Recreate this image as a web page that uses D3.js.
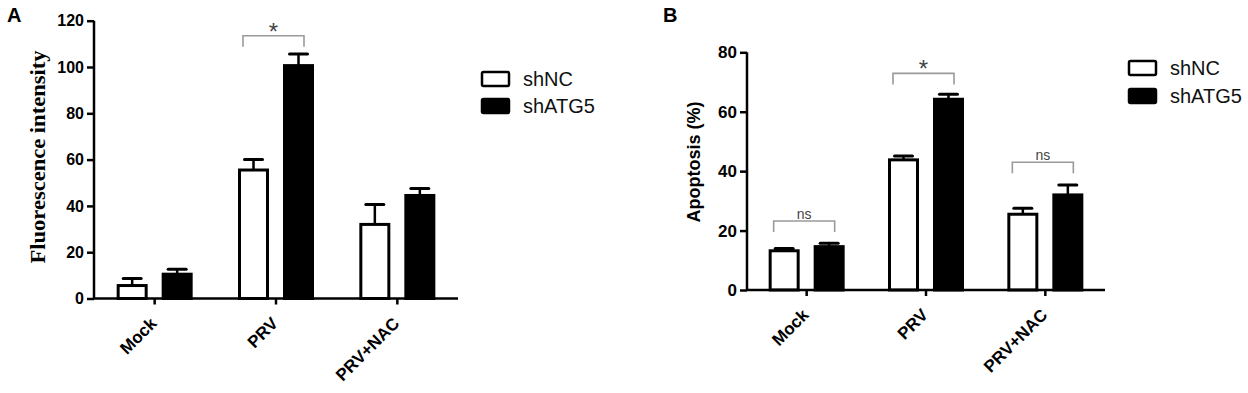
<!DOCTYPE html>
<html>
<head>
<meta charset="utf-8">
<script src="https://cdn.jsdelivr.net/npm/d3@7"></script>
<style>
  body { margin: 0; background: #fff; }
  svg { display: block; }
</style>
</head>
<body>
<svg id="chart" width="1248" height="393" font-family="'Liberation Sans', Arial, sans-serif"></svg>
<script>
// categories and series
const categories = ["Mock", "PRV", "PRV+NAC"];
const seriesNames = ["shNC", "shATG5"];

// panel A: fluorescence intensity
const fluoShNC = [5.6, 55.5, 32];
const fluoShNCErr = [3, 4.5, 8.6];
const fluoShATG5 = [10.5, 100.6, 44.5];
const fluoShATG5Err = [2.1, 5, 3];
const fluoTicks = [0, 20, 40, 60, 80, 100, 120];
const fluoSig = [{ group: "PRV", label: "*", level: 113.5 }];

// panel B: apoptosis (%)
const apopShNC = [13.2, 43.8, 25.5];
const apopShNCErr = [0.8, 1.3, 2];
const apopShATG5 = [14.6, 64.2, 32];
const apopShATG5Err = [1.1, 1.7, 3.3];
const apopTicks = [0, 20, 40, 60, 80];
const apopSig = [
    { group: "Mock", label: "ns", level: 23.2 },
    { group: "PRV", label: "*", level: 72.9 },
    { group: "PRV+NAC", label: "ns", level: 43 }
];

const svg = d3.select("#chart");
svg.append("rect").attr("width", 1248).attr("height", 393).attr("fill", "#fff");

function drawPanel(opts) {
    const g = svg.append("g");
    const x = d3.scaleBand().domain(categories).range([opts.left, opts.right]).padding(0);
    const y = d3.scaleLinear().domain([0, opts.max]).range([opts.bottom, opts.top]);
    const inner = d3.scaleBand().domain(seriesNames)
        .range([x.bandwidth() / 2 - 38, x.bandwidth() / 2 + 38])
        .paddingInner(0.311).paddingOuter(0);

    const rows = [];
    categories.forEach((c, i) => {
        rows.push({ cat: c, s: "shNC", v: opts.shNC[i], e: opts.shNCErr[i] });
        rows.push({ cat: c, s: "shATG5", v: opts.shATG5[i], e: opts.shATG5Err[i] });
    });
    const cx = d => x(d.cat) + inner(d.s) + inner.bandwidth() / 2;

    const sw = 3;
    // error bars (upward only)
    const eb = g.selectAll(".err").data(rows).join("g");
    eb.append("line")
        .attr("x1", cx).attr("x2", cx)
        .attr("y1", d => y(d.v)).attr("y2", d => y(d.v + d.e))
        .attr("stroke", "#000").attr("stroke-width", 2.5);
    eb.append("line")
        .attr("x1", d => cx(d) - 9).attr("x2", d => cx(d) + 9)
        .attr("y1", d => y(d.v + d.e)).attr("y2", d => y(d.v + d.e))
        .attr("stroke", "#000").attr("stroke-width", 3).attr("stroke-linecap", "round");

    // bars
    g.selectAll(".bar").data(rows).join("rect")
        .attr("x", d => x(d.cat) + inner(d.s) + sw / 2)
        .attr("width", inner.bandwidth() - sw)
        .attr("y", d => y(d.v))
        .attr("height", d => y(0) - y(d.v))
        .attr("fill", d => d.s === "shNC" ? "#fff" : "#000")
        .attr("stroke", "#000").attr("stroke-width", sw);

    // y axis
    const yAxis = g.append("g").attr("transform", `translate(${opts.left},0)`)
        .call(d3.axisLeft(y).tickValues(opts.ticks).tickSize(7).tickPadding(3));
    yAxis.attr("font-family", null);
    yAxis.select(".domain").attr("d", `M0,${opts.top}V${opts.bottom}`).attr("stroke-width", 2.5);
    yAxis.selectAll(".tick line").attr("stroke-width", 2.5);
    yAxis.selectAll(".tick text").attr("font-size", opts.tickFont).attr("font-weight", "bold")
        .attr("fill", "#000");

    // x axis
    const xAxis = g.append("g").attr("transform", `translate(0,${opts.bottom})`)
        .call(d3.axisBottom(x).tickSize(6).tickFormat(""));
    xAxis.select(".domain").attr("d", `M${opts.left},0H${opts.right}`).attr("stroke-width", 2.5);
    xAxis.selectAll(".tick line").attr("stroke-width", 2.5);
    g.selectAll(".xlab").data(categories).join("text")
        .attr("transform", d => `translate(${x(d) + x.bandwidth() / 2 + 3},${opts.bottom + 26}) rotate(-45)`)
        .attr("text-anchor", "end")
        .attr("font-size", 17).attr("font-weight", "bold")
        .text(d => d);

    // y label
    const yl = g.append("text")
        .attr("transform", `translate(${opts.ylabX},${opts.ylabY}) rotate(-90)`)
        .attr("text-anchor", "middle")
        .attr("font-size", opts.ylabFont).attr("font-weight", "bold")
        .style("font-family", opts.ylabFamily)
        .text(opts.ylabel);
    if (opts.ylabLen) yl.attr("textLength", opts.ylabLen).attr("lengthAdjust", "spacingAndGlyphs");

    // panel letter
    g.append("text").attr("x", opts.letterX).attr("y", 22)
        .attr("font-size", 20).attr("font-weight", "bold").text(opts.letter);

    // significance brackets
    opts.sig.forEach(s => {
        const gx = x(s.group) + x.bandwidth() / 2;
        const yt = y(s.level);
        g.append("path")
            .attr("d", `M${gx - 33},${yt + 11}V${yt}H${gx + 28}V${yt + 11}`)
            .attr("fill", "none").attr("stroke", "#9a9a9a").attr("stroke-width", 1.6);
        g.append("text").attr("x", gx - 2.5)
            .attr("y", s.label === "*" ? yt + 4 : yt - 2.5)
            .attr("text-anchor", "middle")
            .attr("font-size", s.label === "*" ? 24 : 14)
            .attr("fill", "#444")
            .text(s.label);
    });

    // legend
    seriesNames.forEach((s, i) => {
        const ly = opts.legY + i * opts.legGap;
        g.append("rect").attr("x", opts.legX).attr("y", ly)
            .attr("width", 27).attr("height", 14).attr("rx", 1.5)
            .attr("fill", s === "shNC" ? "#fff" : "#000")
            .attr("stroke", "#000").attr("stroke-width", 2.5);
        g.append("text").attr("x", opts.legX + 41).attr("y", ly + 7)
            .attr("dy", "0.35em").attr("font-size", 20).attr("fill", "#111")
            .text(s);
    });
}

drawPanel({
    left: 94, right: 458, top: 20.7, bottom: 298.5, max: 120,
    shNC: fluoShNC, shNCErr: fluoShNCErr, shATG5: fluoShATG5, shATG5Err: fluoShATG5Err,
    ticks: fluoTicks, tickFont: 16, sig: fluoSig,
    ylabel: "Fluorescence intensity", ylabX: 45, ylabY: 157, ylabFont: 21,
    ylabFamily: "'Liberation Serif', 'Times New Roman', serif", ylabLen: 213,
    letter: "A", letterX: 7,
    legX: 482, legY: 72, legGap: 27
});

drawPanel({
    left: 747, right: 1105, top: 52.3, bottom: 290, max: 80,
    shNC: apopShNC, shNCErr: apopShNCErr, shATG5: apopShATG5, shATG5Err: apopShATG5Err,
    ticks: apopTicks, tickFont: 17, sig: apopSig,
    ylabel: "Apoptosis (%)", ylabX: 700, ylabY: 162, ylabFont: 18,
    ylabFamily: "'Liberation Sans', Arial, sans-serif", ylabLen: 0,
    letter: "B", letterX: 663,
    legX: 1129, legY: 61, legGap: 28
});
</script>
</body>
</html>
